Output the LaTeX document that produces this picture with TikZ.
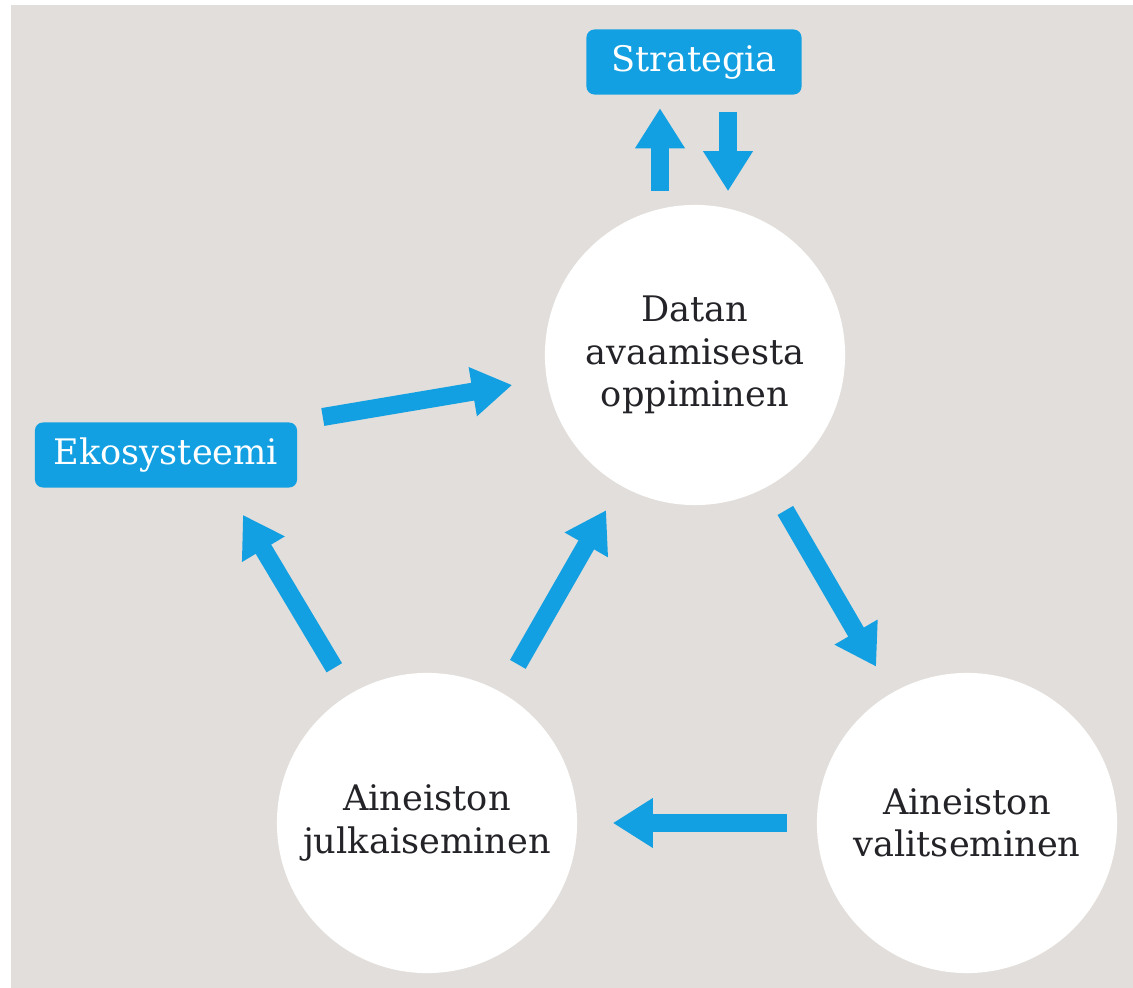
\documentclass[tikz,border=0pt]{standalone}
\usepackage{fontspec}
\setmainfont{DejaVu Serif}
\usetikzlibrary{arrows.meta, positioning}
\definecolor{flowblue}{RGB}{18, 160, 226}
\definecolor{paper}{RGB}{226, 222, 219}
\definecolor{inkgrey}{RGB}{35, 35, 40}

\begin{document}
\begin{tikzpicture}[x=0.01cm, y=-0.01cm,
    phase/.style={circle, fill=white, minimum size=3cm, align=center, text=inkgrey, font=\fontsize{10}{12}\selectfont},
    tag/.style={rectangle, rounded corners=0.08cm, fill=flowblue, text=white, minimum height=0.65cm, font=\fontsize{10}{12}\selectfont},
    fat/.style={-{Triangle[length=0.4cm, width=0.47cm]}, line width=0.18cm, draw=flowblue}]

    % Background
    \useasboundingbox[fill=white] (0,0) rectangle (1133,988);
    \fill[paper] (11,5) rectangle (1133,988);

    % Phases
    \node[phase] (datan) at (695,355) {Datan\\avaamisesta\\oppiminen};
    \node[phase] (julk) at (427,823) {Aineiston\\julkaiseminen};
    \node[phase] (valit) at (967,823) {Aineiston\\valitseminen};

    % Tags
    \node[tag, minimum width=2.15cm] (strat) at (694,62) {Strategia};
    \node[tag, minimum width=2.62cm] (eko) at (166,455) {Ekosysteemi};

    % Flows
    \draw[fat, shorten <=0.13cm, shorten >=0.13cm] ([shift={(-35,0)}]datan.north) -- ([shift={(-34,0)}]strat.south);
    \draw[fat, shorten <=0.17cm, shorten >=0.13cm] ([shift={(34,0)}]strat.south) -- ([shift={(33,0)}]datan.north);
    \draw[fat] ([shift={(25,-38)}]eko.east) -- ([shift={(-32,30)}]datan.west);
    \draw[fat, shorten <=0.29cm, shorten >=0.30cm] (datan) -- (valit);
    \draw[fat, shorten <=0.29cm, shorten >=0.35cm] (valit) -- (julk);
    \draw[fat, shorten <=0.32cm, shorten >=0.28cm] (julk) -- (datan);
    \draw[fat, shorten <=0.30cm, shorten >=0.31cm] (julk) -- ([shift={(61,0)}]eko.south);
\end{tikzpicture}
\end{document}
